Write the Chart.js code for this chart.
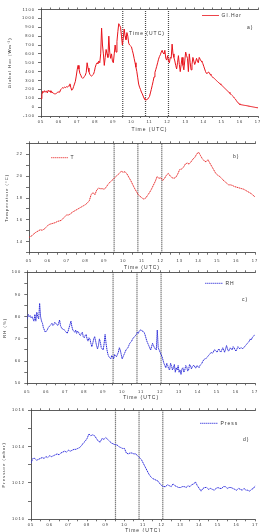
<!DOCTYPE html>
<html lang="en">
<head>
<meta charset="UTF-8">
<title>Surface meteorology, 05-17 UTC</title>
<script src="https://cdn.jsdelivr.net/npm/chart.js"></script>
<style>
  html, body { margin: 0; padding: 0; background: #fff; }
  body { width: 260px; height: 532px; position: relative; overflow: hidden; }
  canvas { position: absolute; left: 0; }
</style>
</head>
<body>
<canvas id="ghiChart" width="260" height="136" style="top:0px"></canvas>
<canvas id="tempChart" width="260" height="138" style="top:134px"></canvas>
<canvas id="rhChart" width="260" height="136" style="top:266px"></canvas>
<canvas id="pressChart" width="260" height="140" style="top:398px"></canvas>

<script>
  const FONT = 'Arial, "Liberation Sans", sans-serif';

  // x axis: hours UTC
  const hourLabels = ['05', '06', '07', '08', '09', '10', '11', '12', '13', '14', '15', '16', '17'];
  const eventTimes = [9.52, 10.78, 12.05];

  // a) global horizontal irradiance, every 0.05 h from 05:00
  const ghiStart = 5, ghiStep = 0.05;
  const ghiValues = [
    95, 140, 180, 165, 185, 170, 180, 160, 190, 175, 185, 165, 175, 160, 155, 150, 150, 155, 165, 170,
    170, 180, 200, 210, 220, 215, 225, 220, 230, 225, 235, 240, 262, 220, 190, 200, 230, 260, 290, 350,
    420, 470, 430, 380, 360, 335, 325, 330, 345, 360, 390, 500, 440, 400, 370, 355, 350, 360, 370, 400,
    450, 480, 500, 490, 520, 500, 600, 890, 700, 600, 470, 560, 650, 600, 560, 800, 620, 550, 600, 520,
    500, 600, 700, 620, 740, 850, 940, 920, 900, 800, 700, 780, 880, 800, 760, 840, 800, 720, 700, 690,
    680, 640, 600, 550, 500, 450, 400, 330, 260, 225, 200, 170, 150, 125, 100, 85, 80, 85, 90, 105,
    120, 160, 200, 245, 290, 340, 390, 425, 460, 500, 540, 570, 590, 620, 640, 610, 600, 640, 550, 530,
    580, 520, 500, 560, 550, 710, 600, 560, 520, 470, 430, 500, 580, 480, 400, 480, 560, 470, 420, 520,
    620, 580, 550, 400, 600, 500, 420, 480, 560, 520, 480, 510, 550, 520, 500, 560, 540, 520, 510, 490,
    460, 430, 400, 380, 380, 395, 390, 370, 360, 345, 335, 330, 320, 310, 300, 290, 280, 272, 262, 255,
    245, 235, 225, 215, 205, 195, 185, 175, 165, 155, 145, 135, 125, 115, 100, 90, 75, 60, 48, 38,
    30, 28, 26, 24, 22, 20, 19, 17, 15, 13, 11, 9, 7, 5, 3, 1, -1, -3, -5, -6,
    -8
  ];
  const ghiAxis = [-100, 1100];
  const ghiTicks = [-100, 0, 100, 200, 300, 400, 500, 600, 700, 800, 900, 1000, 1100];

  // b) air temperature, every 0.1 h
  const tempStart = 5, tempStep = 0.1;
  const tempValues = [
    14.4, 14.5, 14.6, 14.8, 14.9, 15.0, 15.1, 15.05, 15.15, 15.3,
    15.5, 15.6, 15.65, 15.7, 15.75, 15.85, 15.9, 15.95, 16.1, 16.3,
    16.45, 16.45, 16.55, 16.7, 16.8, 16.9, 17.0, 17.1, 17.2, 17.3,
    17.4, 17.55, 17.75, 18.3, 18.5, 18.3, 18.75, 18.9, 18.85, 18.85,
    18.8, 19.0, 19.25, 19.45, 19.6, 19.75, 19.95, 20.1, 20.25, 20.45,
    20.35, 20.4, 20.2, 19.9, 19.6, 19.25, 18.9, 18.6, 18.3, 18.15,
    18.0, 17.9, 18.0, 18.25, 18.5, 18.8, 19.15, 19.5, 19.95, 19.8,
    19.85, 19.6, 19.8, 20.1, 20.25, 20.0, 19.85, 19.8, 19.9, 20.2,
    20.6, 20.65, 20.8, 21.1, 21.2, 21.1, 21.3, 21.55, 21.7, 22.0,
    22.2, 21.9, 21.6, 21.4, 21.3, 21.5, 21.2, 20.9, 20.6, 20.3,
    20.1, 20.0, 19.85, 19.65, 19.5, 19.35, 19.2, 19.2, 19.15, 19.05,
    19.0, 18.95, 18.9, 18.85, 18.8, 18.7, 18.6, 18.5, 18.4, 18.25,
    18.1
  ];
  const tempAxis = [13, 23];
  const tempTicks = [14, 16, 18, 20, 22];

  // c) relative humidity, every 0.05 h
  const rhStart = 5, rhStep = 0.05;
  const rhValues = [
    79, 81, 80, 80.5, 79.5, 80, 79, 78, 81, 78, 82, 80, 79, 86, 80, 78, 77, 75, 74, 73,
    73.5, 74, 75, 75.5, 76, 76.5, 77, 76, 76.5, 77.5, 77, 76.5, 76, 77, 78.5, 76, 75, 74.5, 74.5, 74,
    73.5, 73, 72.5, 73.5, 75, 76.5, 78, 75.5, 74, 73.5, 73, 74, 72.5, 73.5, 73, 72, 71.5, 72.5, 73, 71,
    70.5, 71.5, 72, 70, 69, 70.5, 70, 68, 66.5, 68, 70, 71, 69, 67, 65.5, 67, 70, 68.5, 66, 65.5,
    65, 68, 72, 68, 65, 63, 62, 61.5, 61, 62.5, 62, 61, 63, 62.5, 62, 63, 64, 66, 65, 63,
    61, 62, 63, 64, 65, 65.5, 66, 67, 68, 68.5, 69, 70, 70.5, 71, 71.5, 72, 73, 72.5, 73.5, 74,
    74, 73.5, 73.5, 73, 72, 70.5, 69, 68, 67, 66, 65, 66.5, 68, 67, 66, 65.5, 65, 74, 66, 65,
    64, 63, 62, 60.5, 59, 58, 57, 59, 58, 56.5, 56, 59, 58, 56, 57, 58.5, 55, 57, 56, 58,
    55, 56, 54, 56.5, 57, 55, 56, 58, 57.5, 55.5, 56, 58.5, 58, 56.5, 57.5, 58, 58, 57, 57, 58,
    57.5, 57, 58, 58.5, 59, 60, 60.5, 61, 61, 61.5, 62, 62.5, 63, 63.5, 64, 63.5, 64, 65, 65, 64.5,
    64, 65, 65.5, 64.5, 64, 65, 66, 65, 64, 65.5, 67, 65.5, 64.5, 65, 66, 65.5, 65, 66.5, 66, 65,
    64.5, 65.5, 66.5, 66, 65.5, 66, 66, 65.5, 66, 66.5, 67, 67.5, 68, 68.5, 69, 70, 69.5, 70.5, 71, 71.5,
    72
  ];
  const rhAxis = [50, 100];
  const rhTicks = [50, 60, 70, 80, 90, 100];

  // d) station pressure, every 0.1 h
  const pressStart = 5, pressStep = 0.1;
  const pressValues = [
    1013.1, 1013.35, 1013.35, 1013.25, 1013.3, 1013.35, 1013.4, 1013.35, 1013.45, 1013.4,
    1013.5, 1013.45, 1013.5, 1013.55, 1013.6, 1013.55, 1013.65, 1013.7, 1013.75, 1013.7,
    1013.8, 1013.75, 1013.8, 1013.85, 1013.85, 1013.9, 1013.95, 1014.05, 1014.2, 1014.3,
    1014.45, 1014.7, 1014.6, 1014.65, 1014.6, 1014.45, 1014.3, 1014.25, 1014.45, 1014.4,
    1014.5, 1014.4, 1014.3, 1014.2, 1014.15, 1014.1, 1014.1, 1014.0, 1013.95, 1013.9,
    1013.9, 1013.65, 1013.6, 1013.65, 1013.65, 1013.6, 1013.6, 1013.5, 1013.4, 1013.3,
    1013.1, 1012.9, 1012.7, 1012.5, 1012.35, 1012.25, 1012.2, 1012.15, 1012.1, 1011.95,
    1011.85, 1011.8, 1011.8, 1011.9, 1011.85, 1011.8, 1011.95, 1011.85, 1011.8, 1011.75,
    1011.75, 1011.8, 1011.8, 1011.75, 1011.85, 1011.8, 1011.9, 1011.95, 1012.05, 1011.85,
    1011.7, 1011.55, 1011.7, 1011.75, 1011.75, 1011.65, 1011.7, 1011.65, 1011.6, 1011.7,
    1011.75, 1011.7, 1011.7, 1011.8, 1011.8, 1011.7, 1011.75, 1011.75, 1011.7, 1011.65,
    1011.6, 1011.7, 1011.65, 1011.6, 1011.7, 1011.6, 1011.6, 1011.55, 1011.65, 1011.7,
    1011.85
  ];
  const pressAxis = [1010, 1016];
  const pressTicks = [1010, 1012, 1014, 1016];

  // legend samples, panel letters and loose labels drawn on top of each chart
  const annotate = {
    id: 'annotate',
    beforeDraw(chart) {
      chart.ctx.letterSpacing = '1px';
    },
    afterDraw(chart, args, opts) {
      const ctx = chart.ctx;
      const ds = chart.data.datasets[0];
      ctx.save();
      ctx.letterSpacing = '1px';
      ctx.font = '5px ' + FONT;
      ctx.textBaseline = 'middle';
      ctx.textAlign = 'left';
      const lg = opts.legend;
      ctx.strokeStyle = ds.borderColor;
      ctx.lineWidth = 0.8;
      ctx.setLineDash(ds.borderDash || []);
      ctx.beginPath();
      ctx.moveTo(lg.x0, lg.y);
      ctx.lineTo(lg.x1, lg.y);
      ctx.stroke();
      ctx.setLineDash([]);
      ctx.fillStyle = '#333';
      ctx.fillText(ds.label, lg.x1 + 2.5, lg.y);
      (opts.notes || []).forEach(n => ctx.fillText(n.text, n.x, n.y));
      ctx.restore();
    }
  };

  function drawPanel(canvasId, p) {
    const H = document.getElementById(canvasId).height;
    const datasets = [{
      label: p.label,
      data: p.values.map((v, i) => ({ x: p.start + i * p.step, y: v })),
      borderColor: p.color,
      borderWidth: 1,
      borderDash: p.dash,
      pointRadius: 0,
      tension: 0
    }];
    eventTimes.forEach(t => datasets.push({
      label: '',
      data: [{ x: t, y: p.axis[0] }, { x: t, y: p.axis[1] }],
      borderColor: '#4a4a4a',
      borderWidth: 1.2,
      borderDash: [1, 1],
      pointRadius: 0
    }));

    const axisLine = { color: '#333', width: 0.8 };
    const tickFont = { size: 4, family: FONT };

    return new Chart(document.getElementById(canvasId), {
      type: 'line',
      data: { datasets: datasets },
      plugins: [annotate],
      options: {
        responsive: false,
        animation: false,
        events: [],
        layout: { padding: { left: 0, top: p.box.top, right: 260 - p.box.right, bottom: 0 } },
        plugins: {
          legend: { display: false },
          tooltip: { enabled: false },
          annotate: { legend: p.legend, notes: p.notes }
        },
        scales: {
          x: {
            type: 'linear', min: 5, max: 17,
            afterFit: s => { s.height = H - p.box.bottom; s.paddingLeft = 0; s.paddingRight = 0; },
            ticks: {
              stepSize: 0.5, autoSkip: false, maxRotation: 0, padding: p.xPad,
              font: tickFont, color: '#333',
              callback: v => Number.isInteger(v) ? hourLabels[v - 5] : ''
            },
            grid: { drawOnChartArea: false, tickLength: 2, color: '#333', lineWidth: 0.7 },
            border: axisLine,
            title: {
              display: true, text: 'Time (UTC)', color: '#333',
              font: { size: 5, family: FONT },
              padding: { top: 0, bottom: H - p.titleY - 3 }
            }
          },
          xTop: {
            type: 'linear', position: 'top', min: 5, max: 17,
            afterFit: s => { s.height = 0; s.paddingLeft = 0; s.paddingRight = 0; },
            ticks: { display: false, stepSize: 0.5, autoSkip: false },
            grid: { drawOnChartArea: false, tickLength: 2, color: '#333', lineWidth: 0.7 },
            border: axisLine
          },
          y: {
            min: p.axis[0], max: p.axis[1],
            afterFit: s => { s.width = p.box.left; s.paddingTop = 0; s.paddingBottom = 0; },
            ticks: {
              stepSize: p.yStep, autoSkip: false, padding: 3,
              font: tickFont, color: '#333',
              callback: v => p.ticks.includes(v) ? String(v) : ''
            },
            grid: { drawOnChartArea: false, tickLength: 3, color: '#333', lineWidth: 0.7 },
            border: axisLine,
            title: {
              display: true, text: p.yTitle, color: '#333',
              font: { size: 4.2, family: FONT },
              padding: { top: p.yTitleX - 2.5, bottom: 0 }
            }
          }
        }
      }
    });
  }

  drawPanel('ghiChart', {
    label: 'Gl.Hor', values: ghiValues, start: ghiStart, step: ghiStep,
    axis: ghiAxis, ticks: ghiTicks, yStep: 100, yTitle: 'Global Hor (Wm\u207B\u00B2)',
    color: '#e8141c', dash: [],
    box: { left: 41, right: 258, top: 9.5, bottom: 116 }, xPad: 1.5, titleY: 130, yTitleX: 10,
    legend: { x0: 202, x1: 219, y: 15.5 },
    notes: [{ text: 'a)', x: 247, y: 27.5 }, { text: 'Time (UTC)', x: 129, y: 33.5 }]
  });

  drawPanel('tempChart', {
    label: 'T', values: tempValues, start: tempStart, step: tempStep,
    axis: tempAxis, ticks: tempTicks, yStep: 1, yTitle: 'Temperature (\u00B0C)',
    color: '#e83030', dash: [1.5, 0.5],
    box: { left: 29, right: 255, top: 9.3, bottom: 118.7 }, xPad: 3.5, titleY: 133.5, yTitleX: 7,
    legend: { x0: 51, x1: 68, y: 23.7 },
    notes: [{ text: 'b)', x: 233, y: 23 }]
  });

  drawPanel('rhChart', {
    label: 'RH', values: rhValues, start: rhStart, step: rhStep,
    axis: rhAxis, ticks: rhTicks, yStep: 5, yTitle: 'RH (%)',
    color: '#2e2ed8', dash: [1.5, 0.5],
    box: { left: 27.3, right: 255, top: 6.3, bottom: 117.3 }, xPad: 4.5, titleY: 131.5, yTitleX: 5,
    legend: { x0: 205, x1: 223, y: 17.3 },
    notes: [{ text: 'c)', x: 242, y: 34 }]
  });

  drawPanel('pressChart', {
    label: 'Press', values: pressValues, start: pressStart, step: pressStep,
    axis: pressAxis, ticks: pressTicks, yStep: 1, yTitle: 'Pressure (mbar)',
    color: '#3030dd', dash: [1.5, 0.5],
    box: { left: 31, right: 255.3, top: 12.3, bottom: 121.3 }, xPad: 1, titleY: 133, yTitleX: 4,
    legend: { x0: 200, x1: 218, y: 25.3 },
    notes: [{ text: 'd)', x: 243, y: 42 }]
  });
</script>
</body>
</html>
